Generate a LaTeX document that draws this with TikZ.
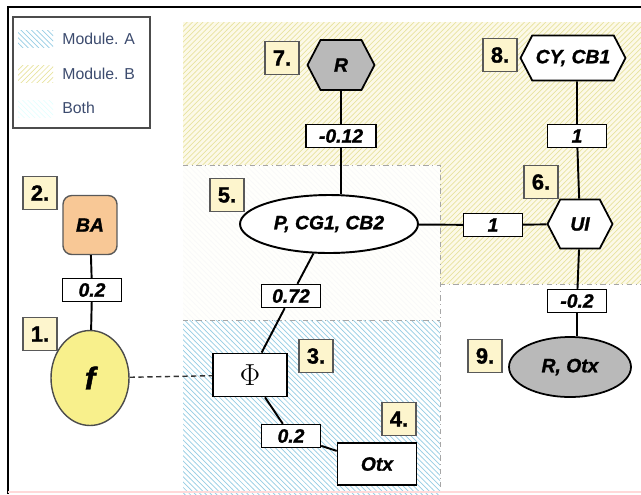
\documentclass[tikz,border=0pt]{standalone}
\usepackage{fontspec}
\setmainfont{Liberation Sans}[BoldFeatures={FakeBold=1.2}, BoldItalicFeatures={FakeBold=1.2}]
\usetikzlibrary{shapes.geometric, shapes.symbols, patterns}
\definecolor{tagfill}{RGB}{253,245,205}
\definecolor{zoneb}{RGB}{252,249,232}
\definecolor{hatchb}{RGB}{232,227,160}
\definecolor{hatcha}{RGB}{150,205,228}
\definecolor{bafill}{RGB}{248,200,150}
\definecolor{ffill}{RGB}{248,240,140}
\definecolor{legtext}{RGB}{60,75,110}

\begin{document}
\begin{tikzpicture}[x=0.02cm, y=-0.02cm,
  every node/.style={font=\bfseries\itshape\fontsize{11}{11}\selectfont, inner sep=0pt},
  tag/.style={draw=gray!70!black, fill=tagfill, line width=0.6pt,
    minimum width=0.68cm, minimum height=0.66cm, font=\bfseries\fontsize{12.5}{13}\selectfont},
  wbox/.style={draw, fill=white, line width=0.8pt, minimum width=1.18cm,
    minimum height=0.46cm, font=\bfseries\itshape\fontsize{11}{11}\selectfont},
  hexa/.style={signal, signal to=west and east, signal pointer angle=125,
    draw, line width=1pt, fill=white},
  link/.style={line width=1.1pt},
  zone/.style={gray!70, line width=0.5pt, dash pattern=on 3pt off 2pt on 0.6pt off 2pt}]
  \useasboundingbox (0,0) rectangle (641,494);
  % module areas
  \path[fill=zoneb, postaction={pattern=north east lines, pattern color=hatchb}]
    (183,22) -- (641,22) -- (641,284) -- (440,284) -- (440,165) -- (183,165) -- cycle;
  \path[fill=white!99!yellow, postaction={pattern=north west lines, pattern color=gray!5}]
    (183,165) rectangle (440,320);
  \path[fill=white, postaction={pattern=north west lines, pattern color=hatcha}]
    (183,320) rectangle (440,494);
  \draw[zone] (183,165) -- (440,165) -- (440,494);
  \draw[zone] (183,320) -- (440,320);
  \draw[zone] (440,284) -- (641,284);
  % frame
  \draw[line width=1.6pt] (641,7) -- (8,7) -- (8,494);
  \draw[red!15, line width=0.6pt] (8,492) -- (641,492);
  % legend
  \draw[gray!60!black, line width=0.6pt] (13,17) rectangle (150,128);
  \fill[pattern=north west lines, pattern color=hatcha] (18,30) rectangle (53,47);
  \fill[pattern=north east lines, pattern color=hatchb] (18,65) rectangle (53,82);
  \fill[pattern=north west lines, pattern color=cyan!10] (18,100) rectangle (53,117);
  \node[anchor=west, font=\fontsize{9}{9}\selectfont, text=legtext] (legA) at (62,39) {Module. A};
  \node[anchor=west, font=\fontsize{9}{9}\selectfont, text=legtext] (legB) at (62,74) {Module. B};
  \node[anchor=west, font=\fontsize{9}{9}\selectfont, text=legtext] (legC) at (62,108) {Both};

  % nodes
  \node[draw=gray!70!black, fill=bafill, rounded corners=5pt, line width=0.8pt,
    minimum width=1.08cm, minimum height=1.18cm] (ba) at (90,225) {BA};
  \node[ellipse, draw=gray!60!black, fill=ffill, line width=0.8pt,
    minimum width=1.56cm, minimum height=1.9cm, font=\bfseries\itshape\fontsize{18}{18}\selectfont] (f) at (90,378) {f};
  \node[draw, fill=white, line width=1pt, minimum width=1.48cm, minimum height=0.86cm,
    font=\fontsize{19}{19}\selectfont] (phi) at (250,375) {$\Phi$};
  \node[draw, fill=white, line width=1pt, minimum width=1.58cm, minimum height=0.84cm] (otx) at (377,464) {Otx};
  \node[ellipse, draw, fill=white, line width=1.1pt, minimum width=3.56cm, minimum height=1.16cm] (pcg) at (329,224) {P, CG1, CB2};
  \node[hexa, fill=gray!55, minimum width=1.34cm, minimum height=1.0cm] (r) at (341,65) {R};
  \node[hexa, minimum width=2.1cm, minimum height=0.9cm] (cy) at (573,58) {CY, CB1};
  \node[hexa, minimum width=1.3cm, minimum height=0.98cm] (ui) at (580,224) {UI};
  \node[ellipse, draw, fill=gray!55, line width=1pt, minimum width=2.44cm, minimum height=1.2cm] (rotx) at (570,367) {R, Otx};

  % weights
  \node[wbox] (wba) at (92,290) {0.2};
  \node[wbox] (wphi) at (291,296) {0.72};
  \node[wbox] (wotx) at (291,436) {0.2};
  \node[wbox, minimum width=1.4cm] (wr) at (341,136) {-0.12};
  \node[wbox] (wcy) at (577,136) {1};
  \node[wbox] (wui) at (493,225) {1};
  \node[wbox] (wrotx) at (577,301) {-0.2};

  % tags
  \node[tag] (t1) at (40,334) {1.};
  \node[tag] (t2) at (40,193) {2.};
  \node[tag] (t3) at (316,356) {3.};
  \node[tag] (t4) at (399,419) {4.};
  \node[tag] (t5) at (227,195) {5.};
  \node[tag] (t6) at (541,182) {6.};
  \node[tag] (t7) at (282,58) {7.};
  \node[tag] (t8) at (500,55) {8.};
  \node[tag] (t9) at (485,356) {9.};

  % links
  \draw[link] (ba) -- (wba) -- (f);
  \draw[gray!40!black, line width=0.8pt, densely dashed] (f) -- (phi);
  \draw[link] (phi) -- (wphi) -- (pcg);
  \draw[link] (phi) -- (wotx) -- (otx);
  \draw[link] (r) -- (wr) -- (wr |- pcg.north);
  \draw[link] (wcy |- cy.south) -- (wcy) -- (ui);
  \draw[link] (pcg) -- (wui) -- (ui);
  \draw[link] (ui) -- (wrotx) -- (wrotx |- rotx.north);
\end{tikzpicture}
\end{document}
